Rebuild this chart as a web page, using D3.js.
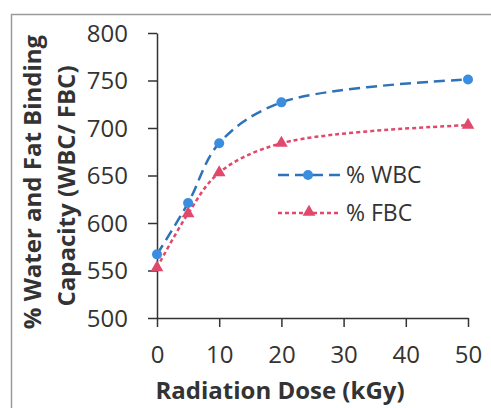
<!DOCTYPE html>
<html><head><meta charset="utf-8">
<script src="https://cdn.jsdelivr.net/npm/d3@7"></script>
<style>
html,body{margin:0;padding:0;background:#fff;}
svg{display:block;}
text{font-family:"Open Sans",sans-serif;fill:#333;}
</style></head>
<body>
<svg id="c" width="491" height="408"></svg>
<script>
const doses = [0, 5, 10, 20, 50];
const wbc = [567, 621, 684, 727, 751];
const fbc = [553, 610, 653, 684, 703];
const xTicks = [0, 10, 20, 30, 40, 50];
const yTicks = [500, 550, 600, 650, 700, 750, 800];
const seriesNames = ["% WBC", "% FBC"];

const svg = d3.select("#c");
// frame
svg.append("path").attr("d","M11.5,408 V14.5 H491").attr("fill","none").attr("stroke","#9a9a9a").attr("stroke-width",1.5);

const x = d3.scaleLinear().domain([0,50]).range([157,468]);
const y = d3.scaleLinear().domain([500,800]).range([318,33]);

const yAxis = svg.append("g").attr("transform","translate(157,0)")
  .call(d3.axisLeft(y).tickValues(yTicks).tickSize(9).tickPadding(20).tickSizeOuter(0));
const xAxis = svg.append("g").attr("transform","translate(0,318)")
  .call(d3.axisBottom(x).tickValues(xTicks).tickSize(9).tickPadding(19).tickSizeOuter(0));
[yAxis,xAxis].forEach(a=>{
  a.select(".domain").attr("stroke","#333").attr("stroke-width",1.5);
  a.selectAll(".tick line").attr("stroke","#333").attr("stroke-width",1.5);
  a.selectAll(".tick text").attr("font-size",24).attr("font-family","Open Sans").attr("fill","#3a3a3a");
});
yAxis.selectAll(".tick text").attr("dy","0.34em");
const line = d3.line().x((d,i)=>x(doses[i])).y(d=>y(d)).curve(d3.curveCatmullRom.alpha(0.5));

const cW = "#2e72b8", cWm = "#3b8de0", cF = "#e0486c";
svg.append("path").datum(fbc).attr("d",line).attr("fill","none").attr("stroke",cF).attr("stroke-width",2.5).attr("stroke-dasharray","4,3");
svg.append("path").datum(wbc).attr("d",line).attr("fill","none").attr("stroke",cW).attr("stroke-width",2.5).attr("stroke-dasharray","11,6");

const tri = d3.symbol().type(d3.symbolTriangle).size(70);
svg.selectAll(".mf").data(fbc).join("path").attr("transform",(d,i)=>`translate(${x(doses[i])},${y(d)})`).attr("d",tri).attr("fill",cF);
svg.selectAll(".mw").data(wbc).join("circle").attr("cx",(d,i)=>x(doses[i])).attr("cy",d=>y(d)).attr("r",5).attr("fill",cWm);

// legend
const lg = svg.append("g");
lg.append("line").attr("x1",278).attr("x2",340).attr("y1",175).attr("y2",175).attr("stroke",cW).attr("stroke-width",2.5).attr("stroke-dasharray","11,6");
lg.append("circle").attr("cx",308).attr("cy",175).attr("r",5).attr("fill",cWm);
lg.append("text").attr("x",346).attr("y",175).attr("dy","0.35em").attr("font-size",23).text(seriesNames[0]);
lg.append("line").attr("x1",278).attr("x2",340).attr("y1",213).attr("y2",213).attr("stroke",cF).attr("stroke-width",2.5).attr("stroke-dasharray","4,3");
lg.append("path").attr("transform","translate(309,212)").attr("d",tri).attr("fill",cF);
lg.append("text").attr("x",346).attr("y",213).attr("dy","0.35em").attr("font-size",23).text(seriesNames[1]);

// axis titles
svg.append("text").attr("x",280).attr("y",399).attr("text-anchor","middle").attr("font-size",24).attr("font-weight","bold").text("Radiation Dose (kGy)");
svg.append("text").attr("transform","translate(41,182) rotate(-90)").attr("text-anchor","middle").attr("font-size",24).attr("font-weight","bold").text("% Water and Fat Binding");
svg.append("text").attr("transform","translate(75,186) rotate(-90)").attr("text-anchor","middle").attr("font-size",24).attr("font-weight","bold").text("Capacity (WBC/ FBC)");
</script>
</body></html>
